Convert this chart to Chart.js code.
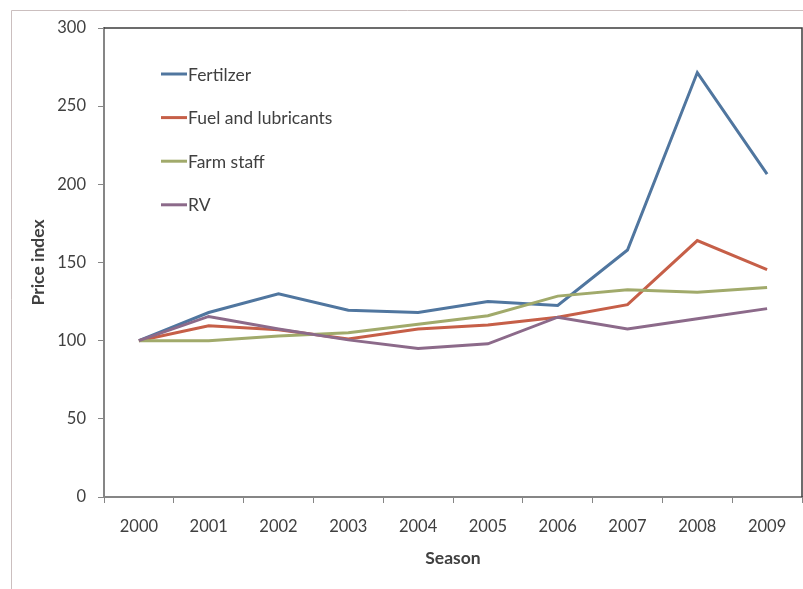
<!DOCTYPE html>
<html lang="en">
<head>
  <meta charset="UTF-8" />
  <title>Price index by season</title>
  <script src="https://cdn.jsdelivr.net/npm/chart.js"></script>
  <style>
    html, body { margin: 0; padding: 0; background: #fff; }
    canvas { display: block; }
  </style>
</head>
<body>
  <canvas id="priceChart" width="803" height="589"></canvas>

  <script>
    // Seasons and price index series (2000 = 100)
    const seasons = ['2000', '2001', '2002', '2003', '2004', '2005', '2006', '2007', '2008', '2009'];
    const fertilizer = [100, 118, 130, 119.5, 118, 125, 122.5, 158, 271.5, 206.5];
    const fuel = [100, 109.5, 107, 101, 107.5, 110, 115, 123, 164, 145.5];
    const farmStaff = [100, 100, 103, 105, 110.5, 116, 128.5, 132.5, 131, 134];
    const rv = [100, 115.5, 107.5, 100.5, 95, 98, 115, 107.5, 114, 120.5];
    const seriesNames = ['Fertilzer', 'Fuel and lubricants', 'Farm staff', 'RV'];
    const seriesColors = ['#50769f', '#c65f48', '#a1aa6b', '#8c6a8a'];

    const textColor = '#404040';
    const axisColor = '#868686';
    const fontFamily = 'Lato, "Open Sans", sans-serif';

    // light frame around the whole chart
    const outerFrame = {
      id: 'outerFrame',
      beforeDraw(chart) {
        const ctx = chart.ctx;
        ctx.save();
        ctx.fillStyle = '#fff';
        ctx.fillRect(0, 0, chart.width, chart.height);
        ctx.strokeStyle = '#cbbfbf';
        ctx.lineWidth = 1;
        ctx.beginPath();
        ctx.moveTo(11.5, chart.height);
        ctx.lineTo(11.5, 10.5);
        ctx.lineTo(chart.width, 10.5);
        ctx.stroke();
        ctx.restore();
      }
    };

    // dark top/right edge of the plot area
    const plotBorder = {
      id: 'plotBorder',
      afterDraw(chart) {
        const { left, top, right, bottom } = chart.chartArea;
        const ctx = chart.ctx;
        ctx.save();
        ctx.strokeStyle = '#3c3c3c';
        ctx.lineWidth = 1.5;
        ctx.beginPath();
        ctx.moveTo(left, top);
        ctx.lineTo(right, top);
        ctx.lineTo(right, bottom);
        ctx.stroke();
        ctx.restore();
      }
    };

    // legend drawn inside the plot, one entry per row
    const innerLegend = {
      id: 'innerLegend',
      afterDatasetsDraw(chart) {
        const ctx = chart.ctx;
        const x0 = 161, lineLen = 26, rowTop = 74, rowGap = 43.6;
        ctx.save();
        ctx.font = '17.5px ' + fontFamily;
        ctx.textBaseline = 'middle';
        ctx.textAlign = 'left';
        chart.data.datasets.forEach((ds, i) => {
          const y = rowTop + i * rowGap;
          ctx.strokeStyle = ds.borderColor;
          ctx.lineWidth = 3;
          ctx.beginPath();
          ctx.moveTo(x0, y);
          ctx.lineTo(x0 + lineLen, y);
          ctx.stroke();
          ctx.fillStyle = textColor;
          ctx.fillText(ds.label, x0 + lineLen + 1, y + 1);
        });
        ctx.restore();
      }
    };

    const allSeries = [fertilizer, fuel, farmStaff, rv];
    const datasets = allSeries.map((values, i) => ({
      label: seriesNames[i],
      data: values,
      borderColor: seriesColors[i],
      backgroundColor: seriesColors[i],
      borderWidth: 3,
      pointRadius: 0,
      tension: 0,
      fill: false,
      order: allSeries.length - i
    }));

    new Chart(document.getElementById('priceChart'), {
      type: 'line',
      data: { labels: seasons, datasets: datasets },
      plugins: [outerFrame, plotBorder, innerLegend],
      options: {
        responsive: false,
        animation: false,
        devicePixelRatio: 1,
        layout: { padding: { top: 28, right: 1, bottom: 0, left: 0 } },
        plugins: {
          legend: { display: false },
          tooltip: { enabled: false }
        },
        scales: {
          x: {
            offset: true,
            grid: { drawOnChartArea: false, offset: true, tickLength: 6, color: axisColor },
            border: { color: axisColor, width: 2 },
            ticks: {
              color: textColor,
              font: { family: fontFamily, size: 16.5 },
              padding: 14,
              maxRotation: 0,
              autoSkip: false
            },
            title: {
              display: true,
              text: 'Season',
              color: textColor,
              font: { family: fontFamily, size: 17.5, weight: 'bold' },
              padding: { top: 0, bottom: 20 }
            },
            afterFit(scale) { scale.height = 92; }
          },
          y: {
            min: 0,
            max: 300,
            grid: { drawOnChartArea: false, tickLength: 6, color: axisColor },
            border: { color: axisColor, width: 2 },
            ticks: {
              stepSize: 50,
              color: textColor,
              font: { family: fontFamily, size: 16.5 },
              padding: 12
            },
            title: {
              display: true,
              text: 'Price index',
              color: textColor,
              font: { family: fontFamily, size: 17.5, weight: 'bold' },
              padding: { top: 28, bottom: 0 }
            },
            afterFit(scale) { scale.width = 104; }
          }
        }
      }
    });
  </script>
</body>
</html>
